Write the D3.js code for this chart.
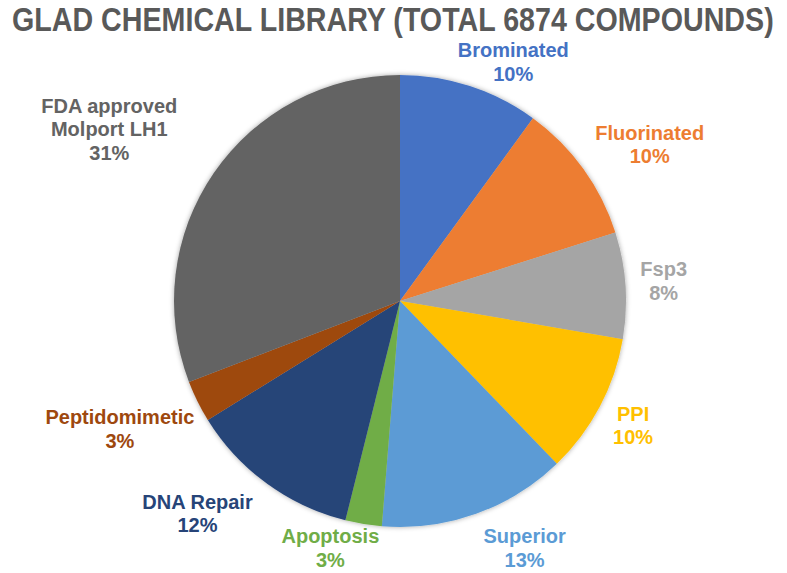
<!DOCTYPE html>
<html>
<head>
<meta charset="utf-8">
<script src="https://cdn.jsdelivr.net/npm/d3@7"></script>
<style>
  body { margin: 0; background: #fff; }
  text { font-family: "Liberation Sans", Arial, sans-serif; font-weight: bold; }
</style>
</head>
<body>
<div id="chart"></div>
<script>
// compound counts per sub-library (total 6874)
var categories = ["Brominated", "Fluorinated", "Fsp3", "PPI", "Superior", "Apoptosis", "DNA Repair", "Peptidomimetic", "FDA approved Molport LH1"];
var counts = [688, 694, 522, 694, 927, 179, 845, 206, 2119];
var colors = ["#4472C4", "#ED7D31", "#A5A5A5", "#FFC000", "#5B9BD5", "#70AD47", "#264478", "#9E480E", "#636363"];
var labelLines = [["Brominated"], ["Fluorinated"], ["Fsp3"], ["PPI"], ["Superior"], ["Apoptosis"], ["DNA Repair"], ["Peptidomimetic"], ["FDA approved", "Molport LH1"]];
var title = "GLAD CHEMICAL LIBRARY (TOTAL 6874 COMPOUNDS)";

var width = 787, height = 573,
    cx = 400, cy = 301, radius = 226, gap = 20, lineH = 23.5;

// excel's label placement is a bit arbitrary, nudge to match
var nudge = {
  "Brominated": [20, 13], "Fluorinated": [6, -2], "Fsp3": [-5, -2], "PPI": [-2, 0],
  "Superior": [28, -3], "Apoptosis": [-22, -15], "DNA Repair": [-25, -2],
  "Peptidomimetic": [7, 10], "FDA approved Molport LH1": [-32, -15]
};

var data = categories.map(function(c, i){
  return { name: c, value: counts[i], color: colors[i], lines: labelLines[i] };
});
var total = d3.sum(counts);
var pct = d3.format(".0%");

var svg = d3.select("#chart").append("svg")
  .attr("width", width)
  .attr("height", height);

var defs = svg.append("defs");
var shadow = defs.append("filter").attr("id", "shadow")
  .attr("x", "-10%").attr("y", "-10%").attr("width", "120%").attr("height", "120%");
shadow.append("feDropShadow")
  .attr("dx", 0).attr("dy", 0).attr("stdDeviation", 2.5)
  .attr("flood-color", "#000").attr("flood-opacity", 0.35);

// title is a condensed bold face in the original, squeeze it horizontally
var titleText = svg.append("text")
  .style("font-size", "33px")
  .style("fill", "#595959")
  .text(title);
var squeeze = 762 / titleText.node().getComputedTextLength();
titleText.attr("transform", "translate(12,31) scale(" + squeeze + ",1)");

var pie = d3.pie().sort(null).value(function(d){ return d.value; });
var arc = d3.arc().innerRadius(0).outerRadius(radius);
var arcs = pie(data);

var g = svg.append("g").attr("transform", "translate(" + cx + "," + cy + ")");

g.append("g").attr("filter", "url(#shadow)")
  .selectAll("path")
  .data(arcs)
  .enter()
  .append("path")
  .attr("d", arc)
  .attr("fill", function(d){ return d.data.color; });

var labels = g.selectAll(".label")
  .data(arcs)
  .enter()
  .append("text")
  .classed("label", true)
  .attr("text-anchor", "middle")
  .style("font-size", "20px")
  .style("fill", function(d){ return d.data.color; });

labels.each(function(d){
  var t = d3.select(this);
  var lines = d.data.lines.concat([pct(d.data.value / total)]);
  lines.forEach(function(l, i){
    t.append("tspan").attr("x", 0).attr("dy", i === 0 ? 0 : lineH).text(l);
  });
  var w = d3.max(t.selectAll("tspan").nodes(), function(n){ return n.getComputedTextLength(); });
  var h = 14.6 + (lines.length - 1) * lineH;
  var a = (d.startAngle + d.endAngle) / 2,
      s = Math.sin(a), c = -Math.cos(a);
  var r = radius + gap;
  // box centre sits outside the slice, pushed out by half its size
  var bx = r * s + w / 2 * s,
      by = r * c + h / 2 * c;
  var n = nudge[d.data.name] || [0, 0];
  bx += n[0]; by += n[1];
  // first baseline from box centre
  var y0 = by - h / 2 + 14.6;
  t.attr("transform", "translate(" + bx + "," + y0 + ")");
});
</script>
</body>
</html>
